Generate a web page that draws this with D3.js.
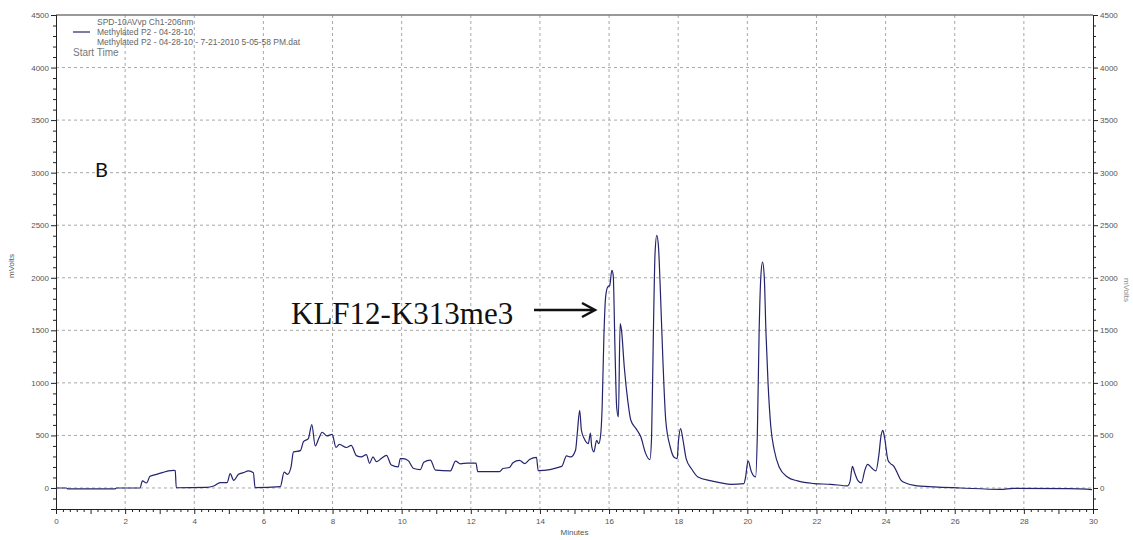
<!DOCTYPE html>
<html>
<head>
<meta charset="utf-8">
<script src="https://cdn.jsdelivr.net/npm/d3@7"></script>
<style>
  body { margin:0; background:#fff; }
  text { font-family: "Liberation Sans", Arial, sans-serif; }
</style>
</head>
<body>
<div id="chart"></div>
<script>
// chromatogram trace
const minutes = [0,0.3,0.35,1.7,1.75,2.43,2.5,2.62,2.72,2.91,3.1,3.25,3.4,3.45,3.48,4.36,4.56,4.75,4.95,5.04,5.14,5.28,5.42,5.57,5.71,5.76,
  6.49,6.6,6.7,6.8,6.87,7.07,7.16,7.3,7.4,7.5,7.6,7.7,7.84,7.99,8.1,8.2,8.4,8.54,8.69,8.83,8.98,9.07,9.17,9.27,9.41,9.56,9.7,9.9,9.96,10.04,10.19,
  10.35,10.54,10.64,10.83,10.98,11.41,11.56,11.7,11.9,12.15,12.2,12.83,12.93,13.12,13.22,13.41,13.56,13.7,13.9,13.95,14.63,14.77,14.89,
  15.03,15.08,15.15,15.2,15.28,15.4,15.46,15.5,15.56,15.64,15.7,15.75,15.8,15.85,15.9,15.96,16.02,16.08,16.12,16.17,16.22,16.27,
  16.32,16.36,16.44,16.54,16.63,16.78,16.92,17.06,17.18,17.23,17.28,17.33,17.38,17.43,17.48,17.55,17.64,17.77,17.89,17.97,
  18.01,18.07,18.14,18.23,18.38,18.57,18.96,19.54,19.9,19.95,20.02,20.12,20.24,20.29,20.34,20.39,20.44,20.49,20.54,20.6,20.68,20.78,
  20.92,21.16,21.45,21.93,22.41,22.9,22.97,23.04,23.1,23.2,23.3,23.4,23.48,23.6,23.72,23.8,23.87,23.92,23.97,24.07,24.15,24.24,24.3,
  24.45,24.6,24.83,25.41,26.17,27.32,27.7,29.24,29.82,29.97];
const mvolts = [0,0,-8,-8,0,0,67,48,111,130,149,162,168,165,2,5,19,51,51,137,73,130,146,162,146,3,
  13,150,130,200,343,355,441,470,603,400,470,530,495,510,385,415,385,405,308,295,318,235,295,250,280,310,218,200,280,280,260,
  185,175,245,265,170,163,255,230,237,237,155,155,185,195,240,262,232,270,292,165,205,305,295,
  359,517,739,549,470,422,523,390,343,454,422,485,771,1437,1817,1912,1928,2071,2024,1342,771,676,
  1564,1500,1151,834,644,565,485,327,270,485,1437,2230,2404,2293,1912,1279,644,390,289,280,
  454,565,454,280,185,105,67,35,42,105,257,152,105,517,1469,2008,2150,2008,1469,993,580,359,
  200,105,67,42,35,20,60,206,150,70,48,170,225,190,162,300,500,549,480,263,230,206,170,
  73,45,25,10,0,-13,-3,-6,-10,-16];

const xTicks = [0,2,4,6,8,10,12,14,16,18,20,22,24,26,28,30];
const yTicks = [0,500,1000,1500,2000,2500,3000,3500,4000,4500];
const legendLines = ["SPD-10AVvp Ch1-206nm", "Methylated P2 - 04-28-10", "Methylated P2 - 04-28-10 - 7-21-2010 5-05-58 PM.dat"];

const data = minutes.map((t,i)=>({t:t, v:mvolts[i]}));

const svgWidth = 1133, svgHeight = 540;
const plotLeft = 56, plotRight = 1093, plotTop = 15, plotBottom = 509;

let svg = d3.select("#chart").append("svg")
  .attr("width", svgWidth).attr("height", svgHeight);

var x = d3.scaleLinear().domain([0,30]).range([plotLeft, plotRight]);
var y = d3.scaleLinear().domain([-200,4500]).range([plotBottom, plotTop]);

// dashed grid
svg.append("g").selectAll("line").data(xTicks.slice(1,-1)).join("line")
  .attr("x1", d=>x(d)).attr("x2", d=>x(d)).attr("y1", plotTop).attr("y2", plotBottom)
  .attr("stroke", "#a8a8a8").attr("stroke-dasharray", "3,3");
svg.append("g").selectAll("line").data(yTicks.slice(0,-1)).join("line")
  .attr("x1", plotLeft).attr("x2", plotRight).attr("y1", d=>y(d)).attr("y2", d=>y(d))
  .attr("stroke", "#a8a8a8").attr("stroke-dasharray", "3,3");

// top frame
svg.append("line").attr("x1", plotLeft).attr("x2", plotRight).attr("y1", plotTop).attr("y2", plotTop)
  .attr("stroke", "#777").attr("stroke-width", 1.5);

const minorY = d3.range(-200, 4501, 100).filter(d => d % 500 != 0);
const minorX = d3.range(0, 30.01, 0.2).filter(d => Math.abs(d - Math.round(d)) > 0.01);

function styleAxis(g){
  g.select(".domain").attr("stroke", "#222");
  g.selectAll(".tick line").attr("stroke", "#222");
  g.selectAll("text").attr("fill", "#555").style("font-size", "8px");
}

// left axis, majors + minors
svg.append("g").attr("transform", "translate(" + plotLeft + ",0)")
  .call(d3.axisLeft(y).tickValues(yTicks).tickSize(5).tickPadding(2).tickFormat(d3.format("d"))).call(styleAxis);
svg.append("g").attr("transform", "translate(" + plotLeft + ",0)")
  .call(d3.axisLeft(y).tickValues(minorY).tickSize(3).tickFormat("")).call(styleAxis);
// right axis
svg.append("g").attr("transform", "translate(" + plotRight + ",0)")
  .call(d3.axisRight(y).tickValues(yTicks).tickSize(5).tickPadding(2).tickFormat(d3.format("d"))).call(styleAxis);
svg.append("g").attr("transform", "translate(" + plotRight + ",0)")
  .call(d3.axisRight(y).tickValues(minorY).tickSize(3).tickFormat("")).call(styleAxis);
// bottom axis
svg.append("g").attr("transform", "translate(0," + plotBottom + ")")
  .call(d3.axisBottom(x).tickValues(xTicks).tickSize(5).tickPadding(4)).call(styleAxis);
svg.append("g").attr("transform", "translate(0," + plotBottom + ")")
  .call(d3.axisBottom(x).tickValues(d3.range(1,30,2)).tickSize(5).tickFormat("")).call(styleAxis);
svg.append("g").attr("transform", "translate(0," + plotBottom + ")")
  .call(d3.axisBottom(x).tickValues(minorX).tickSize(3).tickFormat("")).call(styleAxis);

// axis titles
svg.append("text").attr("x", x(15)).attr("y", 535).attr("text-anchor", "middle")
  .attr("fill", "#555").style("font-size", "8px").text("Minutes");
svg.append("text").attr("transform", "translate(14,266) rotate(-90)").attr("text-anchor", "middle")
  .attr("fill", "#555").style("font-size", "8px").text("mVolts");
svg.append("text").attr("transform", "translate(1124,290) rotate(90)").attr("text-anchor", "middle")
  .attr("fill", "#888").style("font-size", "8px").text("mVolts");

// trace
var line = d3.line().x(d=>x(d.t)).y(d=>y(d.v)).curve(d3.curveMonotoneX);
svg.append("path").datum(data).attr("fill", "none").attr("stroke", "#24246e")
  .attr("stroke-width", 1.2).attr("stroke-linejoin", "round").attr("d", line);

// legend
svg.append("line").attr("x1", 73).attr("x2", 90).attr("y1", 32).attr("y2", 32)
  .attr("stroke", "#24246e").attr("stroke-width", 1.2);
svg.append("g").selectAll("text").data(legendLines).join("text")
  .attr("x", 97).attr("y", (d,i)=>25 + i*10)
  .attr("fill", "#666").style("font-size", "8.5px").text(d=>d);
svg.append("text").attr("x", 73).attr("y", 56).attr("fill", "#777")
  .style("font-size", "10px").text("Start Time");

// annotations
svg.append("text").attr("x", 95).attr("y", 177).attr("fill", "#111")
  .style("font-family", "Lato, 'Open Sans', sans-serif").style("font-size", "20px").text("B");
svg.append("text").attr("x", 291).attr("y", 324).attr("fill", "#111")
  .style("font-family", "'Liberation Serif', 'Times New Roman', serif").style("font-size", "31px").text("KLF12-K313me3");
svg.append("line").attr("x1", 534).attr("x2", 594).attr("y1", 310).attr("y2", 310)
  .attr("stroke", "#111").attr("stroke-width", 2.5);
svg.append("path").attr("d", "M582,303 L595,310 L582,317").attr("fill", "none")
  .attr("stroke", "#111").attr("stroke-width", 2.5);
</script>
</body>
</html>
